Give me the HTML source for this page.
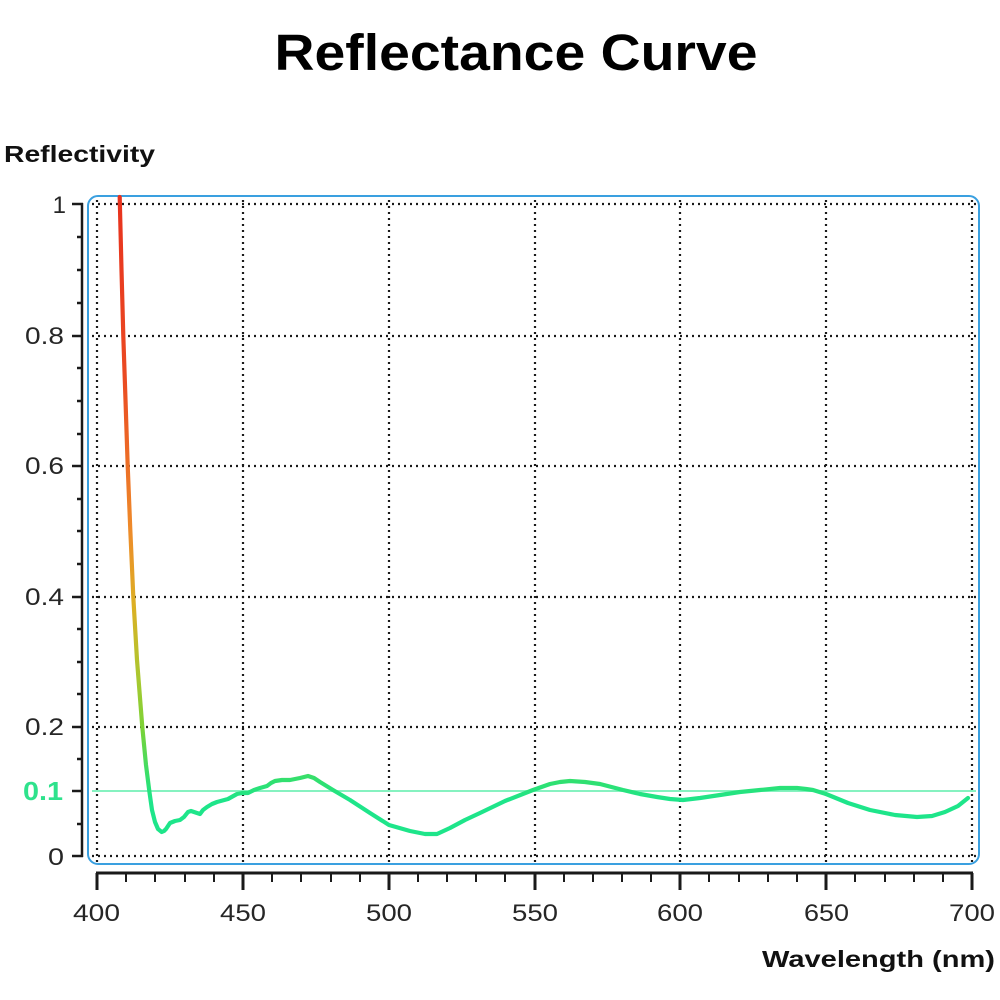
<!DOCTYPE html>
<html><head><meta charset="utf-8"><style>
html,body{margin:0;padding:0;background:#fff;}
svg{display:block;}
text{font-family:"Liberation Sans",sans-serif;}
</style></head><body>
<svg width="1000" height="1000" viewBox="0 0 1000 1000" xmlns="http://www.w3.org/2000/svg">
<defs>
<linearGradient id="cg" gradientUnits="userSpaceOnUse" x1="0" y1="196" x2="0" y2="800">
<stop offset="0" stop-color="#e8321e"/>
<stop offset="0.3" stop-color="#ea4a22"/>
<stop offset="0.55" stop-color="#ee8a2a"/>
<stop offset="0.68" stop-color="#dcb024"/>
<stop offset="0.8" stop-color="#a8c830"/>
<stop offset="0.88" stop-color="#7cd236"/>
<stop offset="0.97" stop-color="#30e070"/>
<stop offset="1" stop-color="#1ee58a"/>
</linearGradient>
</defs>
<rect width="1000" height="1000" fill="#fff"/>
<text x="516" y="70" font-size="51" font-weight="bold" text-anchor="middle" textLength="483" lengthAdjust="spacingAndGlyphs" fill="#000">Reflectance Curve</text>
<text x="4" y="162" font-size="23" font-weight="bold" textLength="151" lengthAdjust="spacingAndGlyphs" fill="#111">Reflectivity</text>

<!-- grid -->
<g stroke="#1a1a1a" stroke-width="2.2" stroke-dasharray="2 4" fill="none">
<line x1="92" y1="204" x2="976" y2="204"/>
<line x1="92" y1="336" x2="976" y2="336"/>
<line x1="92" y1="466" x2="976" y2="466"/>
<line x1="92" y1="597" x2="976" y2="597"/>
<line x1="92" y1="727" x2="976" y2="727"/>
<line x1="92" y1="856" x2="976" y2="856"/>
<line x1="97" y1="200" x2="97" y2="864"/>
<line x1="243" y1="200" x2="243" y2="864"/>
<line x1="389" y1="200" x2="389" y2="864"/>
<line x1="535" y1="200" x2="535" y2="864"/>
<line x1="680" y1="200" x2="680" y2="864"/>
<line x1="826" y1="200" x2="826" y2="864"/>
<line x1="972" y1="200" x2="972" y2="864"/>
</g>

<!-- 0.1 reference -->
<line x1="92" y1="791" x2="976" y2="791" stroke="#86f2c0" stroke-width="2"/>

<!-- frame -->
<rect x="88" y="196" width="891" height="668" rx="10" ry="10" fill="none" stroke="#3aa0e0" stroke-width="2"/>

<!-- curve -->
<polyline fill="none" stroke="url(#cg)" stroke-width="4.2" stroke-linejoin="round" stroke-linecap="round"
points="119.7,197 121.5,270 123.3,336 125.5,400 127.7,466 130.3,530 133.3,597 137,660 142.3,727 146,765 149.3,791 152,810 155,822 158,829 161.7,832 164,831 166,829 168,826 170,823 175,821 180,820 184,817 188,812 191,811 194,812 200,814 203,810 207,807 212,804 217,802 228,799 237,794 242,793 248,793 254,790 260,788 267,786 271,783 275,781 282,780 290,780 300,778 308,776 314,778 320,782 333,790 350,800 370,813 389,825 410,831 425,834 437,834 450,828 465,820 480,813 505,801 533,790 550,784 560,782 570,781 585,782 600,784 623,790 640,794 657,797 670,799 683,800 700,798 720,795 740,792 760,790 780,788 797,788 806,789 813,790 826,794 848,803 870,810 895,815 917,817 932,816 945,812 958,806 968,798"/>

<!-- y axis -->
<g stroke="#1a1a1a" stroke-width="2.5" fill="none">
<line x1="82" y1="203" x2="82" y2="857"/>
<line x1="72" y1="204" x2="83" y2="204"/>
<line x1="72" y1="336" x2="83" y2="336"/>
<line x1="72" y1="466" x2="83" y2="466"/>
<line x1="72" y1="597" x2="83" y2="597"/>
<line x1="72" y1="727" x2="83" y2="727"/>
<line x1="72" y1="791" x2="83" y2="791"/>
<line x1="72" y1="856" x2="83" y2="856"/>
<line x1="77" y1="237" x2="83" y2="237"/>
<line x1="77" y1="270" x2="83" y2="270"/>
<line x1="77" y1="303" x2="83" y2="303"/>
<line x1="77" y1="368" x2="83" y2="368"/>
<line x1="77" y1="401" x2="83" y2="401"/>
<line x1="77" y1="434" x2="83" y2="434"/>
<line x1="77" y1="499" x2="83" y2="499"/>
<line x1="77" y1="531" x2="83" y2="531"/>
<line x1="77" y1="564" x2="83" y2="564"/>
<line x1="77" y1="629" x2="83" y2="629"/>
<line x1="77" y1="662" x2="83" y2="662"/>
<line x1="77" y1="694" x2="83" y2="694"/>
<line x1="77" y1="759" x2="83" y2="759"/>
<line x1="77" y1="824" x2="83" y2="824"/>
</g>
<g font-size="24" fill="#262626">
<text x="66" y="213" text-anchor="end">1</text>
<text x="25" y="344" textLength="39" lengthAdjust="spacingAndGlyphs">0.8</text>
<text x="25" y="474" textLength="39" lengthAdjust="spacingAndGlyphs">0.6</text>
<text x="25" y="605" textLength="39" lengthAdjust="spacingAndGlyphs">0.4</text>
<text x="25" y="735" textLength="39" lengthAdjust="spacingAndGlyphs">0.2</text>
<text x="48" y="865" textLength="16" lengthAdjust="spacingAndGlyphs">0</text>
</g>
<text x="23" y="800" font-size="26" font-weight="bold" fill="#2ee28c" textLength="40" lengthAdjust="spacingAndGlyphs">0.1</text>

<!-- x axis -->
<g stroke="#1a1a1a" stroke-width="3" fill="none">
<line x1="96" y1="873" x2="973" y2="873"/>
<line x1="97" y1="873" x2="97" y2="890"/>
<line x1="243" y1="873" x2="243" y2="890"/>
<line x1="389" y1="873" x2="389" y2="890"/>
<line x1="535" y1="873" x2="535" y2="890"/>
<line x1="680" y1="873" x2="680" y2="890"/>
<line x1="826" y1="873" x2="826" y2="890"/>
<line x1="972" y1="873" x2="972" y2="890"/>
</g>
<g stroke="#1a1a1a" stroke-width="2" fill="none">
<line x1="126" y1="873" x2="126" y2="882"/><line x1="155" y1="873" x2="155" y2="882"/><line x1="185" y1="873" x2="185" y2="882"/><line x1="214" y1="873" x2="214" y2="882"/>
<line x1="272" y1="873" x2="272" y2="882"/><line x1="301" y1="873" x2="301" y2="882"/><line x1="331" y1="873" x2="331" y2="882"/><line x1="360" y1="873" x2="360" y2="882"/>
<line x1="418" y1="873" x2="418" y2="882"/><line x1="447" y1="873" x2="447" y2="882"/><line x1="476" y1="873" x2="476" y2="882"/><line x1="505" y1="873" x2="505" y2="882"/>
<line x1="564" y1="873" x2="564" y2="882"/><line x1="593" y1="873" x2="593" y2="882"/><line x1="622" y1="873" x2="622" y2="882"/><line x1="651" y1="873" x2="651" y2="882"/>
<line x1="709" y1="873" x2="709" y2="882"/><line x1="739" y1="873" x2="739" y2="882"/><line x1="768" y1="873" x2="768" y2="882"/><line x1="797" y1="873" x2="797" y2="882"/>
<line x1="855" y1="873" x2="855" y2="882"/><line x1="885" y1="873" x2="885" y2="882"/><line x1="914" y1="873" x2="914" y2="882"/><line x1="943" y1="873" x2="943" y2="882"/>
</g>
<g font-size="24" fill="#262626">
<text x="73" y="921" textLength="47" lengthAdjust="spacingAndGlyphs">400</text>
<text x="220" y="921" textLength="46" lengthAdjust="spacingAndGlyphs">450</text>
<text x="366" y="921" textLength="46" lengthAdjust="spacingAndGlyphs">500</text>
<text x="512" y="921" textLength="46" lengthAdjust="spacingAndGlyphs">550</text>
<text x="657" y="921" textLength="46" lengthAdjust="spacingAndGlyphs">600</text>
<text x="804" y="921" textLength="45" lengthAdjust="spacingAndGlyphs">650</text>
<text x="949" y="921" textLength="46" lengthAdjust="spacingAndGlyphs">700</text>
</g>
<text x="762" y="967" font-size="23" font-weight="bold" fill="#111" textLength="233" lengthAdjust="spacingAndGlyphs">Wavelength (nm)</text>
</svg>
</body></html>
